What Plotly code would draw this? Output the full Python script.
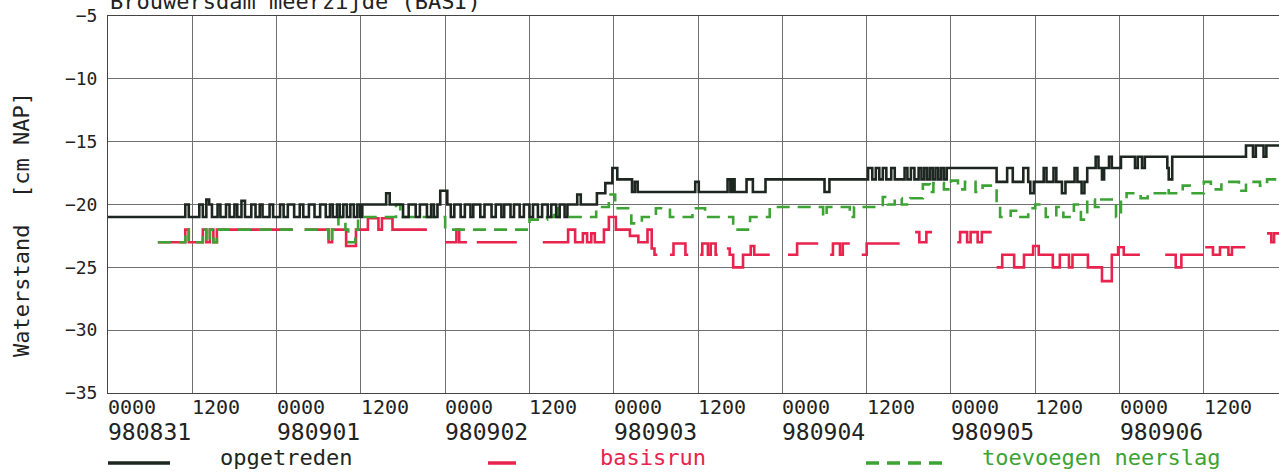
import pandas as pd
import plotly.graph_objects as go

START = pd.Timestamp("1998-08-31 00:00")
END_H = 166.7  # right edge of the plot, hours after 980831 0000

# ---- data: change points (hours after 980831 0000, waterstand cm NAP) ----
# opgetreden (observed)
opg_t = [0, 11.0, 11.5,
         13.0, 13.5, 14.0, 14.4, 14.8, 15.6, 16.0, 16.8, 17.3, 18.0, 18.4, 19.0, 19.5, 20.4, 21.0, 21.6, 22.0,
         23.0, 23.5, 24.5, 25.0, 25.6, 26.5, 27.3, 27.8, 28.6, 29.4, 30.2, 31.0, 31.6, 32.0, 32.6, 33.0, 33.5,
         34.0, 34.5, 35.0, 35.5, 35.9,
         36.2, 39.6, 40.1,
         42.0, 42.8, 43.8, 44.4, 45.4, 46.0, 46.4, 46.9, 47.3, 48.3, 48.8, 49.3, 50.2, 50.8, 51.6, 52.0, 53.0,
         53.6, 54.6, 55.2, 56.0, 56.4, 57.3, 57.8, 58.6, 59.2, 60.0, 60.5, 61.2, 61.8, 62.6, 63.1, 63.8, 64.3,
         65.0, 65.4, 66.8, 67.3,
         69.6, 70.8, 71.8, 72.5, 74.6, 75.0, 75.4,
         83.6, 84.1, 88.2, 88.6, 88.9, 89.2, 90.9, 91.8, 93.6,
         102.0, 102.7,
         108.2, 108.8, 109.3, 109.8, 110.3, 110.8, 111.5, 112.0, 113.4, 113.8, 114.3, 114.8, 115.4, 115.8,
         116.2, 116.6, 117.0, 117.4, 117.8, 118.2, 118.6, 119.0, 119.4,
         126.5, 128.0, 128.8, 130.3, 131.0, 131.3, 131.8, 133.2, 133.6, 134.6, 135.0, 135.8, 136.3, 137.6,
         138.0, 138.6, 139.0, 139.4,
         140.6, 141.0, 141.5, 141.8, 142.5, 142.9, 144.2, 146.2, 146.6, 147.2, 147.6, 150.8, 151.0, 151.5,
         162.0, 163.0, 163.4, 164.5, 164.9]
opg_v = [-21, -20, -21,
         -20, -21, -19.6, -20, -21, -20, -21, -20, -21, -20, -21, -19.7, -21, -20, -21, -20, -21,
         -20, -21, -20, -21, -20, -21, -20, -21, -20, -21, -20, -21, -20, -21, -20, -21, -20,
         -21, -20, -21, -20, -21,
         -20, -19.1, -20,
         -21, -20, -21, -20, -21, -20, -21, -20, -18.9, -20, -21, -20, -21, -20, -21, -20, -21,
         -20, -21, -20, -21, -20, -21, -20, -21, -20, -21, -20, -21, -20, -21, -20, -21, -20,
         -21, -20, -19.2, -20,
         -19.1, -18.3, -17.1, -18, -19, -18.2, -19,
         -18.2, -19, -18, -19, -18, -19, -18, -19, -18,
         -19, -18,
         -17.1, -18, -17.1, -18, -17.1, -18, -17.1, -18, -17.1, -18, -17.1, -18, -17.1, -18,
         -17.1, -18, -17.1, -18, -17.1, -18, -17.1, -18, -17.1,
         -18.2, -17.1, -18.2, -17.1, -18.2, -19.1, -18.2, -17.1, -18.2, -17.1, -18.2, -19.1, -18.2, -17.1,
         -18.2, -19.1, -18.2, -17.1,
         -16.2, -17.1, -18, -17.1, -16.2, -17.1, -16.2, -17.1, -16.2, -17.1, -16.2, -17.1, -18, -16.2,
         -15.3, -16.2, -15.3, -16.2, -15.3]

# basisrun (None = no data)
bas_t = [7.1, 11.0, 11.5, 13.5, 14.0, 14.5, 15.0, 15.5, 26.3, 28.0, 31.4, 31.9, 33.9, 35.3, 37.0, 38.5,
         39.0, 40.5, 45.4, 48.0, 49.6, 50.0, 51.1, 52.5, 58.2, 61.9, 65.5, 66.5, 67.6, 68.2, 68.8, 69.3,
         70.6, 71.3, 72.3, 74.3, 75.5, 76.8, 77.4, 77.8, 78.2, 80.0, 80.5, 82.2, 82.6, 84.3, 84.6, 85.4,
         85.8, 86.5, 86.8, 88.1, 88.5, 89.0, 90.4, 91.5, 92.0, 94.2, 96.8, 98.1, 101.1, 102.8, 103.2,
         104.2, 104.6, 105.6, 107.3, 108.0, 112.7, 114.9, 115.5, 116.5, 117.3, 120.9, 121.3, 122.3, 122.8,
         123.8, 124.4, 125.8, 126.5, 127.3, 129.0, 130.4, 131.7, 132.5, 134.5, 135.5, 136.8, 137.3, 139.5,
         141.5, 142.9, 143.8, 144.6, 146.9, 150.5, 152.0, 152.8, 155.9, 156.2, 157.3, 158.3, 159.5, 160.0,
         161.9, 165.0, 165.6, 166.0]
bas_v = [-23, -22, -23, -22, -23, -22, -23, -22, None, -22, -23, -22, -23.3, -22, -21.1, -22,
         -21.1, -22, None, -23, -22, -23, None, -23, None, -23, -22, -23, -22.3, -23, -22.3, -23,
         -22, -21, -22, -22.5, -23, -22, -23.5, -24, None, -24, -23.1, -24, None, -24, -23.1, -24,
         -23.1, -24, None, -23.5, -24, -25, -24, -23.3, -24, None, -24, -23.1, None, -24, -23.1,
         -24, -23.1, None, -24, -23.1, None, -22.2, -23, -22.2, None, -23, -22.2, -23, -22.2,
         -23, -22.2, None, -25, -24, -25, -24, -23.3, -24, -25, -24, -25, -24, -25,
         -26.1, -24, -23.4, -24, None, -24, -25, -24, None, -23.4, -24, -23.4, -24, -23.4,
         None, -22.3, -23, -22.3]

# toevoegen neerslag
nsl_t = [7.1, 11.0, 11.5, 13.5, 14.0, 14.5, 15.0, 15.5, 26.3, 28.0, 31.4, 31.9, 32.8, 33.8, 34.2, 35.2,
         35.6, 41.0, 41.6, 48.0, 60.0, 62.5, 63.5, 64.0, 69.5, 71.3, 72.2, 74.5, 76.0, 78.0, 80.0, 83.2,
         85.0, 89.0, 91.4, 94.2, 101.8, 102.3, 105.6, 106.2, 110.3, 111.0, 112.0, 113.0, 114.2, 116.0,
         117.0, 117.5, 119.0, 120.0, 121.0, 122.0, 123.5, 124.5, 126.5, 127.0, 128.5, 129.5, 131.0, 132.0,
         133.5, 135.0, 136.0, 137.5, 138.5, 139.4, 140.5, 141.0, 143.5, 144.2, 145.0, 147.0, 148.0, 150.5,
         151.0, 153.0, 154.0, 156.0, 157.0, 158.5, 161.0, 162.0, 164.0, 165.0]
nsl_v = [-23, -22, -23, -22, -23, -22, -23, -22, None, -22, -23, -22, -21, -22, -23, -22,
         -21, -20, -21, -22, -21.2, -21, -20.3, -21, -20.2, -19.2, -20.3, -21.5, -21, -20.3, -21, -20.3,
         -21, -22, -21, -20.2, -21, -20.2, -21, -20.2, -19.4, -20, -19.5, -20, -19.5, -18.4,
         -19, -18.3, -18.8, -18.1, -18.8, -18.2, -19, -18.5, -19.9, -21, -20.5, -21, -20.3, -20,
         -21, -20.2, -21, -20, -21.2, -19.6, -20.2, -19.6, -21, -19.6, -19.1, -19.5, -19.1, -18.7,
         -19.1, -18.5, -19.1, -18.2, -18.8, -18.2, -18.9, -18.2, -18.5, -18.0]

tick_hours = list(range(0, 157, 12))
tick_time_text = ["0000", "1200"]
date_labels = ["980831", "980901", "980902", "980903", "980904", "980905", "980906"]

names = ["opgetreden", "basisrun", "toevoegen neerslag"]
colors = ["#1d2621", "#e8234d", "#3ca334"]

FONT = "DejaVu Sans Mono"

# ---- layout geometry (pixels) ----
W, H = 1279, 474
L, R, T, B = 108, 0, 16, 81
PW, PH = W - L - R, H - T - B


def px(xp):
    return (xp - L) / PW


def py(yp):
    return (H - B - yp) / PH


def to_time(hours):
    return START + pd.to_timedelta(hours, unit="h")


def expand(ts, vs, end):
    xs, ys = [], []
    prev = None
    for t, v in zip(ts, vs):
        if v is None and prev is not None:
            xs.append(t)
            ys.append(prev)
        xs.append(t)
        ys.append(v)
        prev = v
    if prev is not None:
        xs.append(end)
        ys.append(prev)
    return [to_time(x) for x in xs], ys


fig = go.Figure()

for ts, vs, name, col, dash in [
    (bas_t, bas_v, names[1], colors[1], "solid"),
    (nsl_t, nsl_v, names[2], colors[2], "13px,8px"),
    (opg_t, opg_v, names[0], colors[0], "solid"),
]:
    xs, ys = expand(ts, vs, END_H)
    fig.add_trace(go.Scatter(x=xs, y=ys, mode="lines", name=name,
                             line=dict(color=col, width=2.6, shape="hv", dash=dash),
                             connectgaps=False, showlegend=False, hoverinfo="skip"))

annotations = []
# x tick labels (left aligned at gridline)
for i, h in enumerate(tick_hours):
    annotations.append(dict(x=to_time(h), xref="x", y=py(407), yref="paper",
                            text=tick_time_text[(h // 12) % 2], showarrow=False,
                            xanchor="left", yanchor="middle", xshift=-2,
                            font=dict(family=FONT, size=20, color="#222")))
    if h % 24 == 0:
        annotations.append(dict(x=to_time(h), xref="x", y=py(432), yref="paper",
                                text=date_labels[h // 24], showarrow=False,
                                xanchor="left", yanchor="middle", xshift=-2,
                                font=dict(family=FONT, size=23, color="#222")))

# title (partially cut off at top of page, as in the original scan)
annotations.append(dict(x=px(108), xref="paper", y=py(1), yref="paper",
                        text="Brouwersdam meerzijde (BASI)", showarrow=False,
                        xanchor="left", yanchor="middle",
                        font=dict(family=FONT, size=22, color="#222")))
# y-axis title
annotations.append(dict(x=px(22), xref="paper", y=py(225), yref="paper",
                        text="Waterstand\u00a0 [cm NAP]", showarrow=False, textangle=-90,
                        xanchor="center", yanchor="middle",
                        font=dict(family=FONT, size=22, color="#222")))

# manual legend
legend_items = [
    (names[0], colors[0], "solid", 108, 170, 218),
    (names[1], colors[1], "solid", 488, 516, 598),
    (names[2], colors[2], "13px,8px", 866, 946, 980),
]
shapes = []
for name, col, dash, x0, x1, xt in legend_items:
    shapes.append(dict(type="line", xref="paper", yref="paper", x0=px(x0), x1=px(x1),
                       y0=py(463), y1=py(463), line=dict(color=col, width=3.5, dash=dash)))
    annotations.append(dict(x=px(xt), xref="paper", y=py(457), yref="paper", text=name,
                            showarrow=False, xanchor="left", yanchor="middle",
                            font=dict(family=FONT, size=22, color=col)))

fig.update_layout(
    width=W, height=H,
    margin=dict(l=L, r=R, t=T, b=B, autoexpand=False),
    paper_bgcolor="white", plot_bgcolor="white",
    font=dict(family=FONT, color="#222"),
    annotations=annotations, shapes=shapes,
    hovermode=False,
)
fig.update_xaxes(range=[to_time(0), to_time(END_H)], tickvals=[to_time(h) for h in tick_hours],
                 showticklabels=False, showgrid=True, gridcolor="#707070", gridwidth=1,
                 showline=True, linecolor="#444", linewidth=1, mirror=True,
                 zeroline=False, ticks="")
fig.update_yaxes(range=[-35, -5], tickvals=list(range(-35, -4, 5)),
                 showgrid=True, gridcolor="#707070", gridwidth=1,
                 showline=True, linecolor="#444", linewidth=1,
                 zeroline=False, ticks="", ticklabelstandoff=6,
                 tickfont=dict(family=FONT, size=18, color="#222"))

fig.write_html("out.html", config={"displayModeBar": False},
               post_script="document.body.style.margin='0';document.body.style.overflow='hidden';")
